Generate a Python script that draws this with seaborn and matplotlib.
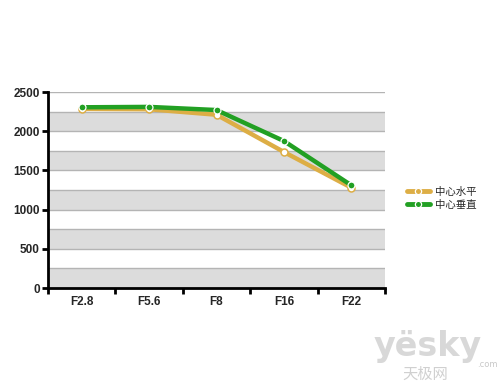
import seaborn as sns
import matplotlib.pyplot as plt
import pandas as pd
from matplotlib.lines import Line2D

# data
apertures = ["F2.8", "F5.6", "F8", "F16", "F22"]
horizontal = [2285, 2280, 2210, 1735, 1280]
vertical = [2305, 2310, 2270, 1875, 1310]
series_names = ["中心水平", "中心垂直"]

df = pd.DataFrame({
    "aperture": apertures * 2,
    "value": horizontal + vertical,
    "series": [series_names[0]] * 5 + [series_names[1]] * 5,
})

sns.set_style("white")
plt.rcParams["font.family"] = ["Liberation Sans", "Noto Sans CJK SC", "DejaVu Sans"]

orange = "#DDAE45"
green = "#22A023"

fig = plt.figure(figsize=(5, 3.92), dpi=100)
ax = fig.add_axes([0.096, 0.2653, 0.674, 0.5])

# alternating bands
for lo in range(0, 2500, 500):
    ax.axhspan(lo, lo + 250, color="#DCDCDC", zorder=0, lw=0)
for y in range(250, 2501, 250):
    ax.axhline(y, color="#B4B4B4", lw=1, zorder=1)

sub = df[df.series == series_names[0]]
sns.lineplot(data=sub, x="aperture", y="value", ax=ax, color=orange, lw=3.2,
             marker="o", markersize=5, markerfacecolor="white",
             markeredgecolor=orange, markeredgewidth=1.1, sort=False, zorder=3)
sub = df[df.series == series_names[1]]
sns.lineplot(data=sub, x="aperture", y="value", ax=ax, color=green, lw=3.2,
             marker="o", markersize=5, markerfacecolor=green,
             markeredgecolor="white", markeredgewidth=0.9, sort=False, zorder=4)

ax.set_xlim(-0.5, 4.5)
ax.set_ylim(0, 2500)
ax.set_yticks(range(0, 2501, 500))
ax.set_xticks(range(5))
ax.set_xticklabels(apertures)
ax.set_xticks([i - 0.5 for i in range(6)], minor=True)
ax.tick_params(axis="x", which="major", length=0, pad=6)
ax.tick_params(axis="x", which="minor", length=4, width=2, direction="out", color="black")
ax.tick_params(axis="y", length=4, width=2, direction="out", color="black", pad=2)
ax.tick_params(axis="y", which="both", left=True)
ax.tick_params(axis="x", which="minor", bottom=True)
for lab in ax.get_xticklabels() + ax.get_yticklabels():
    lab.set_fontweight("bold")
    lab.set_fontsize(8.5)
ax.set_xlabel("")
ax.set_ylabel("")
for s in ["top", "right"]:
    ax.spines[s].set_visible(False)
for s in ["left", "bottom"]:
    ax.spines[s].set_color("black")
    ax.spines[s].set_linewidth(2)

handles = [
    Line2D([], [], color=orange, lw=3.5, marker="o", markersize=4.5,
           markerfacecolor=orange, markeredgecolor="white", markeredgewidth=0.9),
    Line2D([], [], color=green, lw=3.5, marker="o", markersize=4.5,
           markerfacecolor=green, markeredgecolor="white", markeredgewidth=0.9),
]
fig.legend(handles, series_names, loc="upper left", bbox_to_anchor=(0.795, 0.548),
           frameon=False, handlelength=2.2, handletextpad=0.5, labelspacing=0.3,
           prop={"family": ["Noto Sans CJK SC", "DejaVu Sans"], "size": 7.5})

# watermark
fig.text(0.855, 0.115, "yësky", ha="center", va="center", fontsize=24,
         fontweight="bold", color="#D8D8D8", family="DejaVu Sans")
fig.text(0.955, 0.07, ".com", ha="left", va="center", fontsize=6,
         color="#C8C8C8", family="DejaVu Sans")
fig.text(0.85, 0.045, "天极网", ha="center", va="center", fontsize=11,
         color="#D0D0D0", family=["Noto Sans CJK SC", "DejaVu Sans"])

fig.savefig("out.png", dpi=100, facecolor="white")
